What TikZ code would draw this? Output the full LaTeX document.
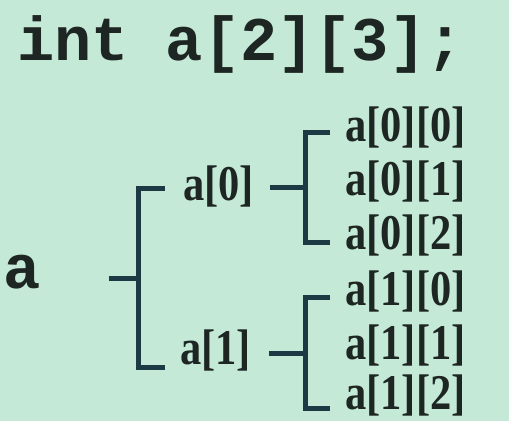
\documentclass[tikz,border=0pt]{standalone}
\usepackage{fontspec}
\newfontfamily\codefont{Liberation Mono}
\newfontfamily\lblfont[FakeStretch=0.85]{Liberation Serif}
\usetikzlibrary{calc}

\definecolor{boardbg}{RGB}{196,233,214}
\definecolor{inkdark}{RGB}{30,38,36}
\definecolor{bracketcol}{RGB}{28,58,68}

\begin{document}
\begin{tikzpicture}[
    x=1pt,
    y=-1pt,
    code/.style={font=\codefont\bfseries\fontsize{62}{62}\selectfont,
        text=inkdark,inner sep=0pt,anchor=base west},
    elem/.style={font=\lblfont\bfseries\fontsize{50}{50}\selectfont,
        text=inkdark,inner sep=0pt,anchor=west},
    brk/.style={draw=bracketcol,line width=5pt,line join=miter}
]

%------------------------------------------------------------
% Board
%------------------------------------------------------------

\fill[boardbg] (0,0) rectangle (509,421);
\useasboundingbox (0,0) rectangle (509,421);

%------------------------------------------------------------
% Declaration and array name
%------------------------------------------------------------

\node[code] (decl) at (17,60) {int a[2][3];};

\node[code] (arr) at (3,288) {a};

%------------------------------------------------------------
% Rows
%------------------------------------------------------------

\node[elem] (r0) at (183,186) {a[0]};
\node[elem] (r1) at (180,350) {a[1]};

%------------------------------------------------------------
% Elements
%------------------------------------------------------------

\node[elem] (e00) at (345,127) {a[0][0]};
\node[elem] (e01) at (345,181) {a[0][1]};
\node[elem] (e02) at (345,235) {a[0][2]};
\node[elem] (e10) at (345,291) {a[1][0]};
\node[elem] (e11) at (345,345) {a[1][1]};
\node[elem] (e12) at (345,395) {a[1][2]};

%------------------------------------------------------------
% Bracket points
%------------------------------------------------------------

\coordinate (ja)  at (138,278);   % a
\coordinate (jr0) at (305,187);   % a[0]
\coordinate (jr1) at (305,353);   % a[1]

%------------------------------------------------------------
% Brackets
%------------------------------------------------------------

% a -> a[0], a[1]
\draw[brk]
($(arr.east|-ja)+(68,0)$)--(ja);

\draw[brk]
($(r0.west)+(-18,2)$)-|(ja)|-($(r1.west)+(-15,17)$);

% a[0] -> a[0][*]
\draw[brk]
($(r0.east|-jr0)+(16,0)$)--(jr0);

\draw[brk]
($(e00.west)+(-15,5)$)-|(jr0)|-($(e02.west)+(-15,7)$);

% a[1] -> a[1][*]
\draw[brk]
($(r1.east|-jr1)+(18,0)$)--(jr1);

\draw[brk]
($(e10.west)+(-15,6)$)-|(jr1)|-($(e12.west)+(-15,13)$);

\end{tikzpicture}
\end{document}
